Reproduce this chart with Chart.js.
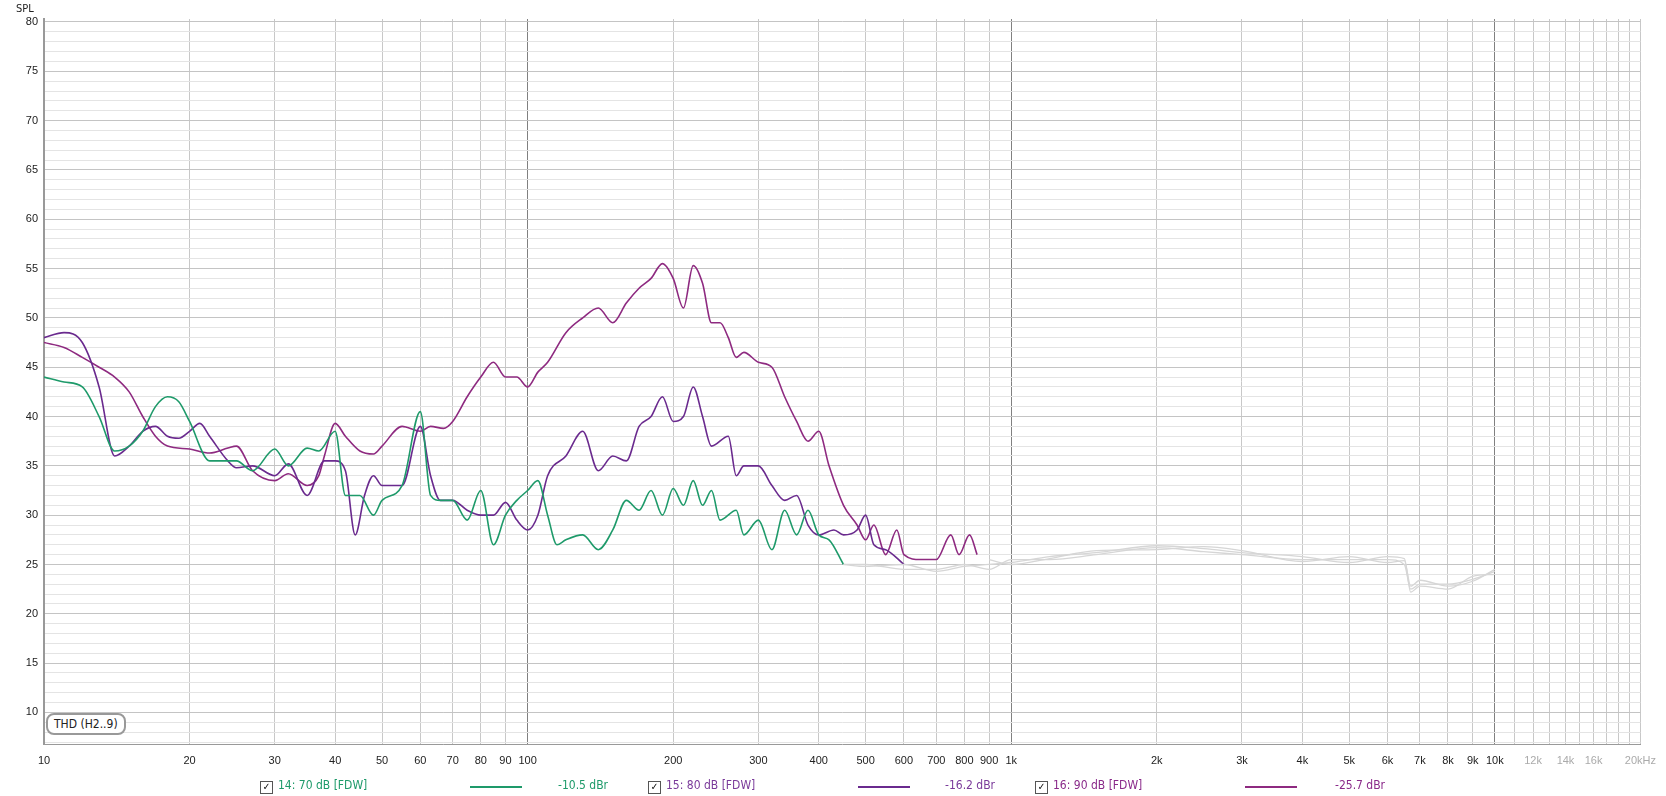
<!DOCTYPE html>
<html><head><meta charset="utf-8">
<script src="https://cdn.jsdelivr.net/npm/chart.js@4/dist/chart.umd.min.js"></script>
<style>
body{margin:0;background:#fff;font-family:"Liberation Sans Narrow","DejaVu Sans Condensed",Arial,sans-serif;}
#wrap{position:relative;width:1666px;height:796px;}
canvas{position:absolute;left:0;top:0;}
#spl{position:absolute;left:16px;top:2px;font-size:11px;color:#222;}
#thd{position:absolute;left:46px;top:713px;font-size:12px;color:#222;border:2px solid #999;border-radius:8px;padding:2px 6px;background:#fff;}
.lg{position:absolute;top:778px;font-size:12px;white-space:nowrap;}
.cb{display:inline-block;width:11px;height:11px;border:1px solid #555;font-size:10px;line-height:10px;text-align:center;color:#000;margin-right:5px;vertical-align:-1px;}
.ln{position:absolute;top:786px;height:2px;width:52px;}
</style></head><body>
<div id="wrap"><canvas id="c" width="1666" height="796"></canvas>
<div id="spl">SPL</div><div id="thd">THD (H2..9)</div>
<div class="lg" style="left:260px;color:#1e9a6a"><span class="cb">✓</span>14: 70 dB [FDW]</div>
<div class="ln" style="left:470px;background:#1e9a6a"></div>
<div class="lg" style="left:558px;color:#1e9a6a">-10.5 dBr</div>
<div class="lg" style="left:648px;color:#7a3a9a"><span class="cb">✓</span>15: 80 dB [FDW]</div>
<div class="ln" style="left:858px;background:#6a2a8e"></div>
<div class="lg" style="left:945px;color:#7a3a9a">-16.2 dBr</div>
<div class="lg" style="left:1035px;color:#8a2a8a"><span class="cb">✓</span>16: 90 dB [FDW]</div>
<div class="ln" style="left:1245px;background:#8e2a80"></div>
<div class="lg" style="left:1335px;color:#8a2a8a">-25.7 dBr</div>
</div>
<script>
const f70=[10,11,12,13,14,15,16,17,18,19,20,22,25,27,30,32,35,37,40,42,45,48,50,55,60,63,66,70,75,80,85,90,95,100,105,110,115,120,130,140,150,160,170,180,190,200,210,220,230,240,250,270,280,300,320,340,360,380,400,420,450];
const v70=[44,43.5,43,40,36.5,37,38.5,41,42,41.5,39.5,35.5,35.5,34.5,36.7,35,36.8,36.5,38.5,32,32,30,31.5,33,40.5,32,31.5,31.5,29.5,32.5,27,30,31.5,32.5,33.5,30,27,27.5,28,26.5,28.5,31.5,30.5,32.5,30,32.7,31,33.5,31,32.5,29.5,30.5,28,29.5,26.5,30.5,28,30.5,28,27.5,25];
const f80=[10,11,12,13,14,15,16,17,18,19,20,21,22,24,25,27,30,32,35,38,40,42,44,46,48,50,55,60,63,66,70,75,80,85,90,95,100,105,110,120,130,140,150,160,170,180,190,200,210,220,230,240,260,270,280,300,320,340,360,380,400,430,450,480,500,520,550,600];
const v80=[48,48.5,47.5,43,36,37,38.5,39,38,37.8,38.5,39.3,38,35.5,34.8,35,34,35.2,32,35.5,35.5,34.5,28,32,34,33,33,39,34,31.5,31.5,30.5,30,30,31.3,29.5,28.5,30,34,36,38.5,34.5,36,35.5,39,40,42,39.5,40,43,40,37,38,34,35,35,33,31.5,32,29,28,28.5,28,28.5,30,27,26.5,25];
const f90=[10,11,12,13,14,15,16,17,18,20,22,24,25,27,30,32,35,37,38,40,42,45,48,50,55,60,63,67,70,75,80,85,90,95,100,105,110,120,130,140,150,160,170,180,190,200,210,220,230,240,250,260,270,280,300,320,340,360,380,400,420,450,480,500,520,550,580,600,650,700,750,780,820,850];
const v90=[47.5,47,46,45,44,42.5,40,38,37,36.7,36.3,36.8,37,34.5,33.5,34.2,33,34,36,39.3,38,36.5,36.2,37,39,38.5,39,38.8,39.5,42,44,45.5,44,44,43,44.5,45.5,48.5,50,51,49.5,51.5,53,54,55.5,54,51,55.3,53.5,49.5,49.5,48,46,46.5,45.5,45,42,39.5,37.5,38.5,35,31,29,27.5,29,26,28.5,26,25.5,25.5,28,26,28,26];
const fGrey=[450,500,600,700,800,900,1000,1200,1500,2000,2500,3000,4000,5000,6000,6500,6700,7000,8000,9000,10000];
const vGreyA=[25,25,24.5,24.5,25,24.5,25.5,25.5,26,26.7,26.3,26,25.5,25.5,25.5,25,22.5,23,23,23.5,24.3];
const vGreyB=[25,24.8,25,24.3,24.8,25,25.2,25.8,26.2,26.9,26.6,26.2,25.8,25.2,25.8,25.6,22.2,22.8,22.5,23.8,24];
const vGreyC=[25,25.3,24.8,25,25.2,25.5,25,25.6,26.4,26.5,26.8,26.4,25.3,25.8,25.2,25.4,22.8,23.4,22.8,23.3,24.5];
const yTicks=[];for(let i=7;i<=80;i++)yTicks.push(i);
const xTicks=[];[10,100,1000].forEach(d=>{for(let k=1;k<10;k++)xTicks.push(k*d)});for(let k=10;k<=20;k++)xTicks.push(k*1000);
const xLabels={10:'10',20:'20',30:'30',40:'40',50:'50',60:'60',70:'70',80:'80',90:'90',100:'100',200:'200',300:'300',400:'400',500:'500',600:'600',700:'700',800:'800',900:'900',1000:'1k',2000:'2k',3000:'3k',4000:'4k',5000:'5k',6000:'6k',7000:'7k',8000:'8k',9000:'9k',10000:'10k',12000:'12k',14000:'14k',16000:'16k',20000:'20kHz'};
const pts=(f,v)=>f.map((x,i)=>({x,y:v[i]}));
const ds=(d,c,w)=>({data:d,borderColor:c,borderWidth:w||1.6,pointRadius:0,cubicInterpolationMode:'monotone',fill:false});
new Chart(document.getElementById('c'),{type:'line',data:{datasets:[
 ds(pts(fGrey,vGreyA),'#d6d6d6',1.3),ds(pts(fGrey,vGreyB),'#d6d6d6',1.3),ds(pts(fGrey.slice(5),vGreyC.slice(5)),'#d6d6d6',1.3),
 ds(pts(f70,v70),'#1e9a6a'),ds(pts(f80,v80),'#6a2a8e'),ds(pts(f90,v90),'#8e2a80')]},
options:{responsive:false,animation:false,events:[],layout:{padding:{left:0,right:13,top:19,bottom:0}},
plugins:{legend:{display:false},tooltip:{enabled:false}},
scales:{
x:{type:'logarithmic',min:10,max:20000,border:{color:'#999'},
 afterBuildTicks:s=>{s.ticks=xTicks.map(v=>({value:v}))},
 afterFit:s=>{s.height=52},
 grid:{color:c=>{const v=c.tick&&c.tick.value;return [10,100,1000,10000].includes(v)?'#808080':'#c8c8c8'},drawTicks:false},
 ticks:{autoSkip:false,maxRotation:0,padding:10,font:{size:11},color:c=>c.tick.value>10000?'#aaa':'#222',callback:v=>xLabels[v]||''}},
y:{min:6.8,max:80.3,border:{color:'#999',width:2},
 afterBuildTicks:s=>{s.ticks=yTicks.map(v=>({value:v}))},
 afterFit:s=>{s.width=44},
 grid:{color:c=>c.tick&&c.tick.value%5===0?'#c4c4c4':'#e4e4e4',drawTicks:false},
 ticks:{autoSkip:false,padding:6,font:{size:11},color:'#222',callback:v=>v%5===0?String(v):''}}}}});
</script></body></html>
